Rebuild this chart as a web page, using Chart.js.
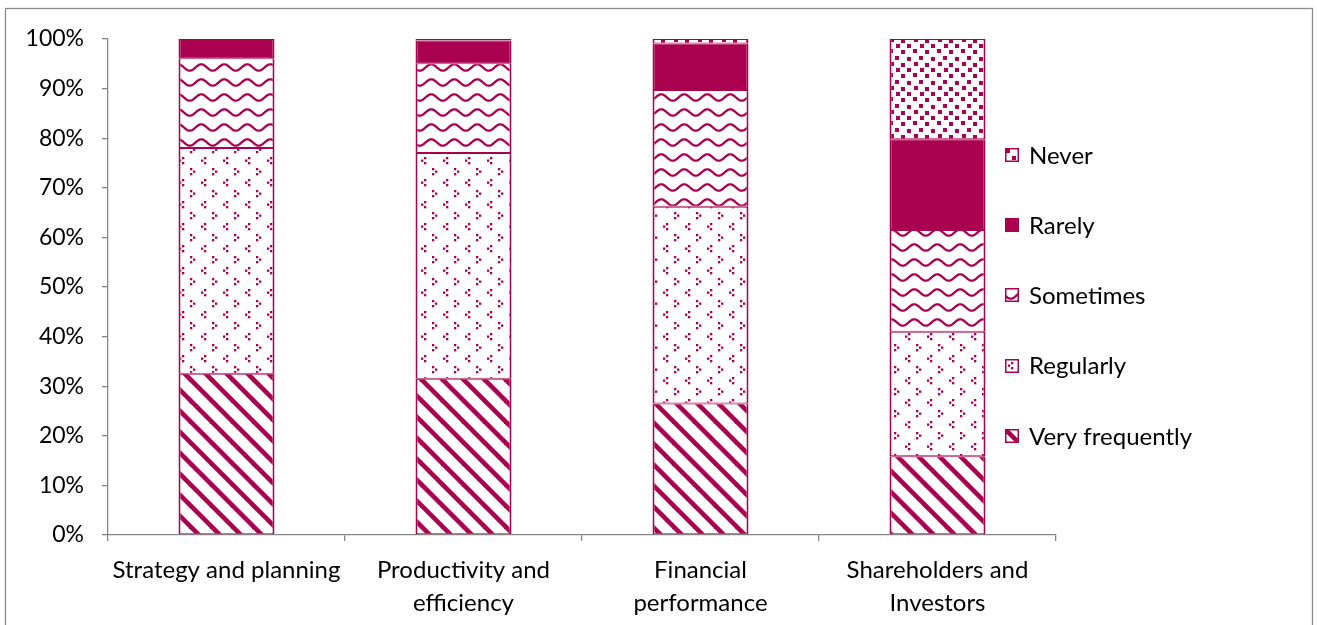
<!DOCTYPE html>
<html>
<head>
<meta charset="utf-8">
<script src="https://cdn.jsdelivr.net/npm/chart.js@4.4.1/dist/chart.umd.min.js"></script>
<style>
html,body{margin:0;padding:0;background:#fff;}
canvas{display:block;}
</style>
</head>
<body>
<canvas id="c" width="1317" height="625"></canvas>
<script>
// ---- data ----
const categories = [["Strategy and planning"], ["Productivity and", "efficiency"], ["Financial", "performance"], ["Shareholders and", "Investors"]];
const seriesNames = ["Very frequently", "Regularly", "Sometimes", "Rarely", "Never"];
const veryFrequently = [32.5, 31.5, 26.5, 15.9];
const regularly      = [45.5, 45.5, 39.7, 25.1];
const sometimes      = [18.1, 18.1, 23.5, 20.5];
const rarely         = [3.9, 4.6, 9.4, 18.3];
const never          = [0, 0.3, 0.9, 20.2];
const yTickValues    = [0, 10, 20, 30, 40, 50, 60, 70, 80, 90, 100];

// ---- styles ----
const COLOR = '#A9004F';
const FONT = 'Lato, "Open Sans", sans-serif';

function mk(w, h) { const c = document.createElement('canvas'); c.width = w; c.height = h; const g = c.getContext('2d'); g.fillStyle = '#fff'; g.fillRect(0, 0, w, h); return [c, g]; }
const ctx0 = document.getElementById('c').getContext('2d');

function diagPattern() {
  const P = 21; const [c, g] = mk(P, P);
  g.strokeStyle = COLOR; g.lineWidth = 4.6;
  for (const k of [-1, 0, 1]) { g.beginPath(); g.moveTo(k * P - 3, -3); g.lineTo(k * P + P + 3, P + 3); g.stroke(); }
  return ctx0.createPattern(c, 'repeat');
}
function dotsPattern() {
  const P = 22; const [c, g] = mk(P, P);
  g.fillStyle = COLOR; const s = 2.3;
  const lt = (x, y) => { g.fillRect(x + 3, y, s, s); g.fillRect(x, y + 2.5, s, s); g.fillRect(x + 3, y + 5, s, s); };
  const gt = (x, y) => { g.fillRect(x, y, s, s); g.fillRect(x + 3, y + 2.5, s, s); g.fillRect(x, y + 5, s, s); };
  lt(3, 3); gt(14, 14);
  return ctx0.createPattern(c, 'repeat');
}
function wavePattern() {
  const W = 23, H = 15; const [c, g] = mk(W, H);
  g.strokeStyle = COLOR; g.lineWidth = 2.3;
  for (const dy of [-H, 0, H]) {
    g.beginPath();
    for (let x = -3; x <= W + 3; x += 0.5) { const y = dy + H / 2 + 3.2 * Math.sin(2 * Math.PI * x / W); if (x === -3) g.moveTo(x, y); else g.lineTo(x, y); }
    g.stroke();
  }
  return ctx0.createPattern(c, 'repeat');
}
function confettiPattern() {
  const P = 24; const [c, g] = mk(P, P);
  g.fillStyle = COLOR;
  const sq = [[1, 1], [13, 2], [7, 8], [19, 9], [2, 14], [13, 15], [8, 20], [19, 20]];
  for (const [x, y] of sq) g.fillRect(x, y, 4, 4);
  return ctx0.createPattern(c, 'repeat');
}
const fills = [diagPattern(), dotsPattern(), wavePattern(), COLOR, confettiPattern()];
const seriesData = [veryFrequently, regularly, sometimes, rarely, never];

const datasets = seriesNames.map((name, i) => ({
  label: name,
  data: seriesData[i],
  backgroundColor: fills[i],
  borderColor: COLOR,
  borderWidth: { top: 1, bottom: 1, left: 2, right: 2 },
  borderSkipped: false,
  categoryPercentage: 1,
  barPercentage: 0.405
}));

const frame = {
  id: 'frame',
  beforeDraw(chart) {
    const g = chart.ctx; g.save();
    g.fillStyle = '#fff'; g.fillRect(0, 0, chart.width, chart.height);
    g.strokeStyle = '#8c8c8c'; g.lineWidth = 1.3;
    g.strokeRect(5.5, 8.5, 1307, 700);
    g.restore();
  }
};

const sideLegend = {
  id: 'sideLegend',
  afterDraw(chart) {
    const g = chart.ctx; g.save();
    const ds = chart.data.datasets;
    const x = 1005, box = 14, y0 = 155, step = 70.2;
    g.font = '24px ' + FONT; g.textBaseline = 'middle';
    for (let j = 0; j < ds.length; j++) {
      const d = ds[ds.length - 1 - j];
      const cy = y0 + j * step;
      const top = Math.round(cy - box / 2);
      g.save();
      g.translate(x, top);
      g.fillStyle = d.backgroundColor; g.fillRect(0, 0, box, box);
      g.restore();
      g.strokeStyle = COLOR; g.lineWidth = 1.5; g.strokeRect(x + 0.75, top + 0.75, box - 1.5, box - 1.5);
      g.fillStyle = '#000'; g.fillText(d.label, x + 24, cy + 1);
    }
    g.restore();
  }
};

new Chart(document.getElementById('c'), {
  type: 'bar',
  data: { labels: categories, datasets },
  options: {
    responsive: false,
    animation: false,
    layout: { padding: { left: 0, top: 39, right: 261, bottom: 0 } },
    plugins: { legend: { display: false }, tooltip: { enabled: false } },
    scales: {
      x: {
        stacked: true,
        afterFit(s) { s.height = 90; },
        grid: { display: true, drawOnChartArea: false, offset: true, tickLength: 6, color: '#868686', lineWidth: 1.3 },
        border: { display: true, color: '#868686', width: 1.3 },
        ticks: { color: '#000', font: { family: FONT, size: 24, lineHeight: 1.375 }, padding: 13, maxRotation: 0, autoSkip: false }
      },
      y: {
        stacked: true,
        min: 0, max: 100,
        afterFit(s) { s.width = 108; },
        afterBuildTicks(s) { s.ticks = yTickValues.map(v => ({ value: v })); },
        grid: { display: true, drawOnChartArea: false, tickLength: 6, color: '#868686', lineWidth: 1.3 },
        border: { display: true, color: '#868686', width: 1.3 },
        ticks: { color: '#000', font: { family: FONT, size: 23 }, padding: 18, callback: v => v + '%' }
      }
    }
  },
  plugins: [frame, sideLegend]
});
</script>
</body>
</html>
